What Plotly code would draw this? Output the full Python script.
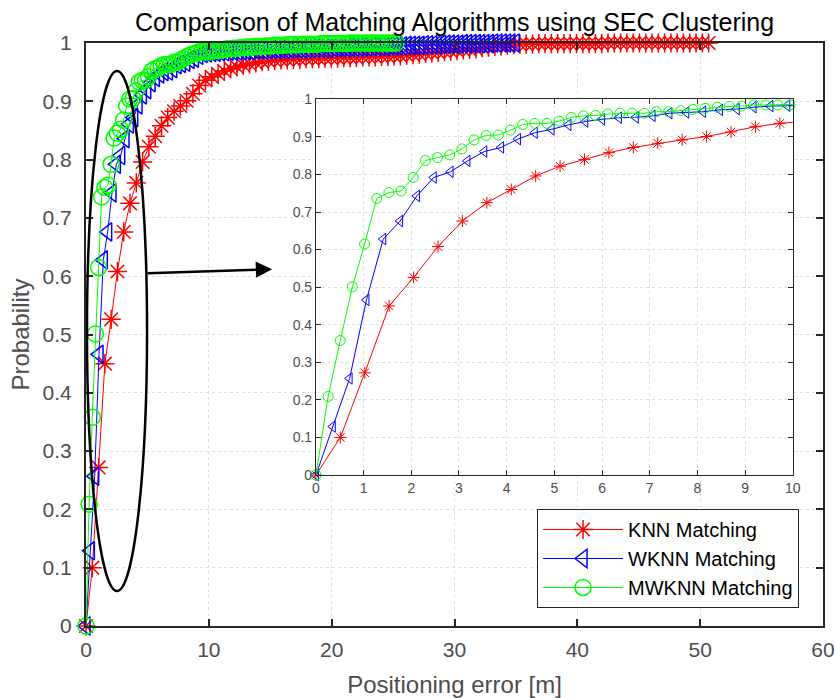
import numpy as np
import plotly.graph_objects as go

# Sampling step (m) of each error CDF, 100 samples per method
knn_step = 0.512
wknn_step = 0.353
mwknn_step = 0.255
n_samples = 100

knn_prob = [
    0.000, 0.100, 0.272, 0.450, 0.526, 0.608, 0.676, 0.725, 0.760, 0.796,
    0.822, 0.840, 0.858, 0.872, 0.883, 0.892, 0.901, 0.913, 0.927, 0.936,
    0.942, 0.947, 0.952, 0.956, 0.959, 0.962, 0.964, 0.966, 0.968, 0.969,
    0.970, 0.971, 0.971, 0.972, 0.972, 0.973, 0.973, 0.973, 0.974, 0.974,
    0.974, 0.975, 0.975, 0.975, 0.976, 0.976, 0.976, 0.977, 0.977, 0.978,
    0.978, 0.979, 0.980, 0.981, 0.982, 0.983, 0.984, 0.985, 0.986, 0.987,
    0.988, 0.989, 0.990, 0.992, 0.993, 0.994, 0.995, 0.996, 0.997, 0.998,
    0.998, 0.998, 0.999, 0.999, 0.999, 0.999, 0.999, 0.999, 0.999, 0.999,
    0.999, 0.999, 0.999, 1.000, 1.000, 1.000, 1.000, 1.000, 1.000, 1.000,
    1.000, 1.000, 1.000, 1.000, 1.000, 1.000, 1.000, 1.000, 1.000, 1.000,
]

wknn_prob = [
    0.000, 0.129, 0.257, 0.466, 0.628, 0.676, 0.743, 0.792, 0.807, 0.836,
    0.861, 0.872, 0.894, 0.911, 0.920, 0.932, 0.941, 0.947, 0.951, 0.952,
    0.956, 0.963, 0.965, 0.967, 0.972, 0.974, 0.979, 0.982, 0.983, 0.984,
    0.984, 0.985, 0.985, 0.986, 0.986, 0.986, 0.987, 0.987, 0.987, 0.988,
    0.988, 0.988, 0.988, 0.989, 0.989, 0.989, 0.989, 0.990, 0.990, 0.990,
    0.990, 0.990, 0.991, 0.991, 0.991, 0.991, 0.991, 0.992, 0.992, 0.992,
    0.992, 0.992, 0.993, 0.993, 0.993, 0.993, 0.994, 0.994, 0.994, 0.994,
    0.995, 0.995, 0.995, 0.995, 0.996, 0.996, 0.996, 0.996, 0.997, 0.997,
    0.997, 0.997, 0.998, 0.998, 0.998, 0.998, 0.998, 0.999, 0.999, 0.999,
    0.999, 0.999, 0.999, 0.999, 1.000, 1.000, 1.000, 1.000, 1.000, 1.000,
]

mwknn_prob = [
    0.000, 0.209, 0.358, 0.501, 0.615, 0.736, 0.752, 0.756, 0.792, 0.837,
    0.845, 0.852, 0.868, 0.892, 0.904, 0.905, 0.918, 0.933, 0.936, 0.936,
    0.942, 0.952, 0.956, 0.957, 0.961, 0.963, 0.963, 0.963, 0.967, 0.967,
    0.970, 0.973, 0.976, 0.979, 0.981, 0.982, 0.985, 0.985, 0.985, 0.985,
    0.986, 0.987, 0.988, 0.988, 0.989, 0.990, 0.990, 0.991, 0.991, 0.992,
    0.992, 0.993, 0.993, 0.993, 0.994, 0.994, 0.994, 0.995, 0.995, 0.995,
    0.996, 0.996, 0.996, 0.996, 0.997, 0.997, 0.997, 0.997, 0.997, 0.998,
    0.998, 0.998, 0.998, 0.998, 0.998, 0.999, 0.999, 0.999, 0.999, 0.999,
    0.999, 0.999, 0.999, 0.999, 1.000, 1.000, 1.000, 1.000, 1.000, 1.000,
    1.000, 1.000, 1.000, 1.000, 1.000, 1.000, 1.000, 1.000, 1.000, 1.000,
]

series_names = ["KNN Matching", "WKNN Matching", "MWKNN Matching"]
series_steps = [knn_step, wknn_step, mwknn_step]
series_probs = [knn_prob, wknn_prob, mwknn_prob]
series_colors = ["#ff0000", "#0000ff", "#00ff00"]
series_symbols = ["asterisk-open", "triangle-left-open", "circle-open"]

main_x_ticks = [0, 10, 20, 30, 40, 50, 60]
inset_x_ticks = list(range(0, 11))
prob_ticks = [round(0.1 * k, 1) for k in range(11)]

FONT = "Liberation Sans, Arial, Helvetica, sans-serif"
AXIS_COLOR = "#262626"
TICK_COLOR = "#4d4d4d"
GRID = "#dedede"

fig = go.Figure()

for name, step, prob, color, sym in zip(series_names, series_steps, series_probs,
                                        series_colors, series_symbols):
    x = step * np.arange(n_samples)
    y = np.array(prob)
    # full-range curve
    fig.add_trace(go.Scatter(
        x=x, y=y, name=name, mode="lines+markers", cliponaxis=False,
        line=dict(color=color, width=1),
        marker=dict(symbol=sym, size=16, color=color, line=dict(width=1.5, color=color)),
        xaxis="x", yaxis="y", showlegend=True,
    ))
    # zoomed view: clipped line plus markers inside 0..10 m
    fig.add_trace(go.Scatter(
        x=x, y=y, mode="lines", cliponaxis=True,
        line=dict(color=color, width=1),
        xaxis="x2", yaxis="y2", showlegend=False, hoverinfo="skip",
    ))
    keep = x <= 10
    fig.add_trace(go.Scatter(
        x=x[keep], y=y[keep], mode="markers", cliponaxis=False,
        marker=dict(symbol=sym, size=10, color=color, line=dict(width=1, color=color)),
        xaxis="x2", yaxis="y2", showlegend=False,
    ))

axis_common = dict(
    showline=True, linecolor=AXIS_COLOR, mirror="ticks", ticks="inside",
    tickcolor=AXIS_COLOR, zeroline=False, showgrid=True, gridcolor=GRID,
    griddash="dot", gridwidth=1, automargin=False,
)

fig.update_layout(
    width=835, height=698,
    margin=dict(l=86, r=12, t=43, b=72),
    paper_bgcolor="white", plot_bgcolor="white",
    font=dict(family=FONT, color=TICK_COLOR),
    title=dict(
        text="Comparison of Matching Algorithms using SEC Clustering",
        font=dict(family=FONT, size=25, color="black"),
        x=0.5, xref="paper", xanchor="center",
        y=1 - 22 / 698, yref="container", yanchor="middle",
        automargin=False,
    ),
    xaxis=dict(
        **axis_common, domain=[0, 1], range=[0, 60], tickvals=main_x_ticks,
        ticklen=7, linewidth=2, tickwidth=1.5,
        tickfont=dict(size=21, color=TICK_COLOR), ticklabelstandoff=4,
        title=dict(text="Positioning error [m]", font=dict(size=24, color=TICK_COLOR), standoff=16),
        anchor="y",
    ),
    yaxis=dict(
        **axis_common, domain=[0, 1], range=[0, 1], tickvals=prob_ticks,
        ticklen=7, linewidth=2, tickwidth=1.5,
        tickfont=dict(size=21, color=TICK_COLOR), ticklabelstandoff=8,
        title=dict(text="Probability", font=dict(size=24, color=TICK_COLOR), standoff=6),
        anchor="x",
    ),
    xaxis2=dict(
        **axis_common, domain=[0.312, 0.959], range=[0, 10], tickvals=inset_x_ticks,
        ticklen=5, linewidth=1, tickwidth=1,
        tickfont=dict(size=14, color=TICK_COLOR),
        anchor="y2",
    ),
    yaxis2=dict(
        **axis_common, domain=[0.259, 0.9034], range=[0, 1], tickvals=prob_ticks,
        ticklen=5, linewidth=1, tickwidth=1,
        tickfont=dict(size=14, color=TICK_COLOR),
        anchor="x2",
    ),
    legend=dict(
        x=0.612, y=0.2007, xanchor="left", yanchor="top",
        xref="paper", yref="paper",
        bgcolor="white", bordercolor=AXIS_COLOR, borderwidth=1,
        font=dict(family=FONT, size=20, color="black"),
        itemwidth=80, tracegroupgap=0,
    ),
)

# Ellipse marking the 0-5 m region and the arrow to the zoomed view
fig.add_shape(
    type="circle", xref="x", yref="y",
    x0=0.08, x1=4.97, y0=0.060, y1=0.952,
    line=dict(color="black", width=2.5), layer="above",
)
fig.add_annotation(
    x=15.15, y=0.612, ax=4.89, ay=0.605,
    xref="x", yref="y", axref="x", ayref="y",
    text="", showarrow=True, arrowhead=2, arrowsize=1.3,
    arrowwidth=2.5, arrowcolor="black", standoff=0,
)

fig.write_html("out.html")
